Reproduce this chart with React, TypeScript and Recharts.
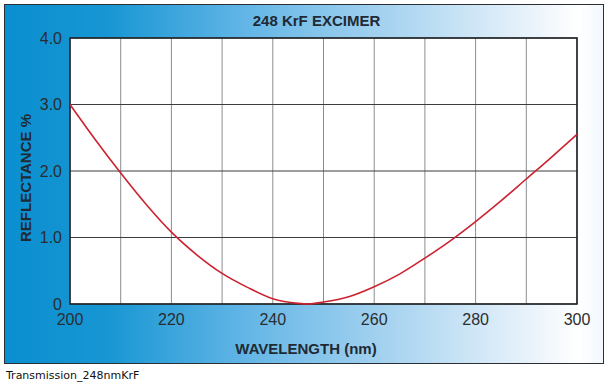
import React from "react";
import {
  LineChart,
  Line,
  XAxis,
  YAxis,
  CartesianGrid,
  ReferenceArea,
} from "recharts";

// wavelength (nm) and reflectance (%)
const wavelengths = [
  200, 205, 210, 215, 220, 225, 230, 235, 240, 245, 247, 250, 255, 260, 265,
  270, 275, 280, 285, 290, 295, 300,
];
const reflectance = [
  3.0, 2.47, 1.97, 1.5, 1.08, 0.74, 0.46, 0.25, 0.08, 0.01, 0.0, 0.03, 0.11,
  0.26, 0.45, 0.69, 0.95, 1.24, 1.55, 1.88, 2.21, 2.55,
];

const xGridTicks = [200, 210, 220, 230, 240, 250, 260, 270, 280, 290, 300];
const xLabelTicks = [200, 220, 240, 260, 280, 300];
const yTicks = [0, 1, 2, 3, 4];

const title = "248 KrF EXCIMER";
const xTitle = "WAVELENGTH (nm)";
const yTitle = "REFLECTANCE %";
const caption = "Transmission_248nmKrF";

const data = wavelengths.map((nm, i) => ({ nm, r: reflectance[i] }));

const FONT = "'Liberation Sans', Arial, Helvetica, sans-serif";

// eslint-disable-next-line @typescript-eslint/no-explicit-any
function YTitle({ viewBox }: any) {
  const cx = 25;
  const cy = viewBox.y + viewBox.height / 2 + 7;
  return (
    <text
      x={cx}
      y={cy}
      transform={`rotate(-90, ${cx}, ${cy})`}
      textAnchor="middle"
      dominantBaseline="central"
      fontFamily={FONT}
      fontWeight="bold"
      fontSize={15}
      fill="#1f2a33"
    >
      {yTitle}
    </text>
  );
}

// eslint-disable-next-line @typescript-eslint/no-explicit-any
function XTitle({ viewBox }: any) {
  return (
    <text
      x={306}
      y={viewBox.y + 44}
      textAnchor="middle"
      dominantBaseline="central"
      fontFamily={FONT}
      fontWeight="bold"
      fontSize={15}
      fill="#1f2a33"
    >
      {xTitle}
    </text>
  );
}

export default function App() {
  return (
    <div
      style={{
        position: "absolute",
        left: 0,
        top: 0,
        width: 611,
        height: 390,
        background: "#fff",
      }}
    >
      <div
        style={{
          position: "absolute",
          left: 4,
          top: 4,
          width: 598,
          height: 358,
          border: "1.5px solid #2b2f33",
          background:
            "linear-gradient(to right, #0b8fd0 0%, #1796d3 17%, #62b5e6 40%, #a9d4f0 65%, #e4f0fa 86%, #ffffff 96%, #f2f7fc 100%)",
        }}
      />
      <div
        style={{
          position: "absolute",
          left: 0,
          top: 12,
          width: 633,
          textAlign: "center",
          fontFamily: FONT,
          fontWeight: "bold",
          fontSize: 15,
          color: "#1f2a33",
        }}
      >
        {title}
      </div>
      <div style={{ position: "absolute", left: 0, top: 0 }}>
        <LineChart
          width={611}
          height={390}
          data={data}
          margin={{ top: 38, right: 34, left: 0, bottom: 0 }}
        >
          <CartesianGrid
            horizontal={false}
            stroke="#8a8d90"
            strokeWidth={1}
            fill="#ffffff"
          />
          <CartesianGrid vertical={false} stroke="#3a3d40" strokeWidth={1} />
          <XAxis
            dataKey="nm"
            type="number"
            domain={[200, 300]}
            ticks={xGridTicks}
            interval={0}
            tickFormatter={(v) => (xLabelTicks.includes(v) ? String(v) : "")}
            tickLine={false}
            axisLine={false}
            tickMargin={4}
            height={86}
            tick={{ fontSize: 16, fill: "#2a2d30", fontFamily: FONT }}
            label={{ content: <XTitle /> }}
          />
          <YAxis
            type="number"
            domain={[0, 4]}
            ticks={yTicks}
            interval={0}
            tickFormatter={(v) => (v === 0 ? "0" : Number(v).toFixed(1))}
            tickLine={false}
            axisLine={false}
            width={70}
            tick={{ fontSize: 16, fill: "#2a2d30", fontFamily: FONT }}
            label={{ content: <YTitle /> }}
          />
          <ReferenceArea
            x1={200}
            x2={300}
            y1={0}
            y2={4}
            fill="none"
            stroke="#1f2326"
            strokeWidth={1.6}
            ifOverflow="visible"
          />
          <Line
            type="monotone"
            dataKey="r"
            stroke="#cc2230"
            strokeWidth={1.6}
            dot={false}
            isAnimationActive={false}
          />
        </LineChart>
      </div>
      <div
        style={{
          position: "absolute",
          left: 6,
          top: 369,
          fontFamily: "'DejaVu Sans', Verdana, sans-serif",
          fontSize: 11,
          color: "#111",
        }}
      >
        {caption}
      </div>
    </div>
  );
}
